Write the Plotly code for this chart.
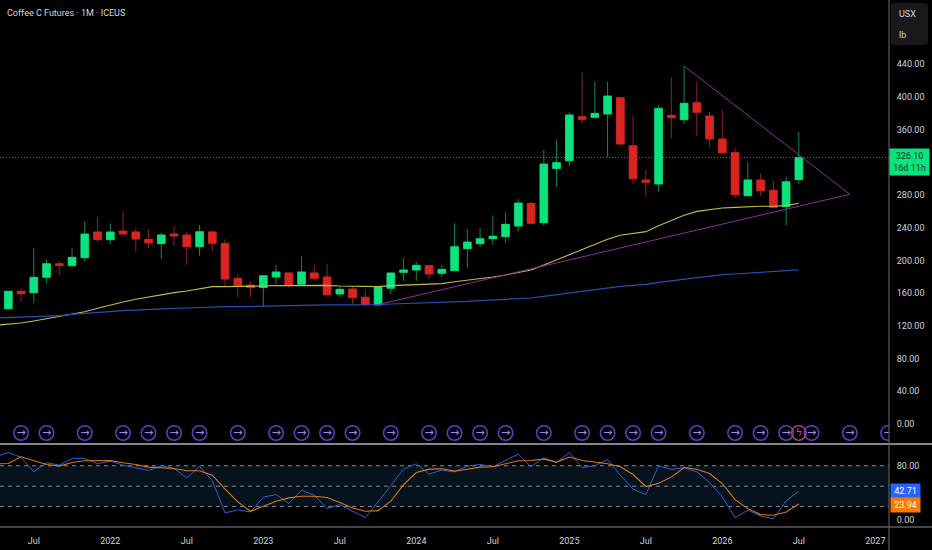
import plotly.graph_objects as go
from plotly.subplots import make_subplots

WIDTH = 932
HEIGHT = 550
AXIS_X = 889
MAIN_BOTTOM = 444
LOWER_BOTTOM = 527

# monthly bars, index 0 = May 2021
bar_open = [141.0, 162.3, 160.6, 179.4, 196.1, 193.7, 203.5, 234.9, 225.5, 236.0, 234.9, 225.9, 220.6, 232.4, 231.2, 216.9,
            234.9, 221.0, 178.2, 170.0, 166.8, 179.8, 184.7, 170.9, 184.7, 179.8, 159.0, 165.1, 155.0, 145.6, 166.0, 185.5,
            188.4, 193.7, 184.3, 187.6, 214.5, 220.6, 226.7, 229.2, 242.2, 269.9, 246.3, 312.7, 322.1, 376.0, 375.1, 379.2,
            399.2, 340.5, 298.5, 293.6, 377.6, 372.3, 393.1, 376.8, 348.6, 331.9, 279.3, 298.5, 285.8, 265.9, 298.9]
bar_high = [162.5, 166.0, 214.9, 201.4, 199.8, 214.9, 248.3, 253.2, 245.5, 260.1, 239.4, 237.3, 234.0, 242.2, 235.3, 243.4,
            236.5, 225.9, 183.1, 174.1, 182.3, 194.5, 185.5, 204.7, 194.9, 196.1, 168.0, 168.8, 164.7, 168.8, 184.7, 203.9,
            198.2, 194.5, 194.5, 245.5, 238.1, 239.8, 255.2, 259.0, 275.2, 272.0, 335.2, 348.2, 381.3, 430.2, 418.4, 418.8,
            399.2, 376.8, 310.7, 390.2, 424.0, 437.9, 418.4, 381.7, 384.1, 338.4, 320.5, 306.6, 297.3, 302.5, 357.2]
bar_low = [140.0, 149.6, 147.6, 172.1, 182.3, 191.6, 198.6, 222.6, 220.2, 232.0, 210.8, 214.9, 202.2, 218.1, 194.5, 205.9,
           211.2, 168.8, 155.0, 155.0, 143.1, 171.2, 166.8, 170.0, 176.2, 158.2, 155.8, 146.4, 146.0, 144.4, 159.0, 175.0,
           175.3, 177.4, 179.8, 187.6, 191.6, 216.5, 219.4, 221.4, 236.1, 244.6, 242.2, 290.3, 315.6, 367.8, 373.9, 326.2,
           341.3, 293.6, 278.1, 284.2, 349.4, 367.0, 352.3, 339.3, 331.9, 276.1, 278.1, 278.9, 263.8, 243.0, 293.2]
bar_close = [162.3, 159.4, 179.4, 196.1, 193.7, 203.9, 232.4, 225.5, 234.9, 232.4, 226.3, 221.4, 231.2, 230.0, 216.9, 235.3,
             221.0, 177.4, 169.6, 166.8, 181.4, 186.0, 170.0, 186.0, 178.2, 158.2, 164.7, 154.5, 146.0, 167.6, 184.7, 188.4,
             194.1, 183.5, 189.2, 216.9, 222.6, 226.7, 229.6, 244.2, 270.3, 245.5, 318.0, 319.7, 378.0, 372.7, 380.0, 401.2,
             342.5, 300.1, 295.6, 386.1, 374.7, 392.3, 381.3, 348.6, 331.9, 280.5, 298.5, 285.4, 265.0, 296.4, 326.1]
bar_index = list(range(len(bar_open)))

# indicators start one month earlier, so they reach the left edge
line_index = list(range(-1, 63))
yellow_ma = [120.7, 121.9, 123.5, 126.0, 128.9, 131.3, 133.8, 137.4, 141.5, 145.6, 149.2, 152.5, 155.4, 158.2, 160.7, 162.7,
             165.1, 168.0, 168.0, 168.0, 168.0, 168.8, 169.2, 169.2, 170.0, 170.0, 169.6, 168.8, 168.4, 168.0, 168.0, 169.2,
             170.0, 170.8, 171.2, 171.7, 174.1, 175.7, 177.8, 179.8, 182.3, 185.1, 188.4, 194.5, 200.6, 207.1, 212.9, 219.4,
             225.9, 230.8, 233.2, 235.3, 242.6, 249.1, 255.3, 260.1, 262.6, 264.2, 265.0, 265.9, 266.3, 266.3, 267.1, 270.0]
blue_ma = [129.7, 130.1, 130.5, 130.9, 131.7, 132.5, 134.1, 135.4, 136.6, 137.4, 138.6, 139.4, 140.3, 140.7, 141.5, 141.9,
           142.7, 143.1, 143.5, 143.5, 143.9, 143.9, 144.3, 144.3, 145.1, 145.1, 145.6, 145.6, 145.6, 146.0, 146.0, 146.8,
           147.2, 147.6, 148.4, 148.8, 149.6, 150.0, 150.9, 151.7, 152.5, 153.3, 154.1, 156.2, 158.2, 160.7, 162.7, 165.1,
           166.7, 168.4, 169.6, 170.9, 173.3, 175.3, 177.4, 179.4, 181.4, 182.6, 183.5, 184.3, 185.5, 186.3, 187.5, 188.7]
stoch_k = [93.2, 99.6, 92.3, 71.1, 84.4, 81.0, 90.8, 90.8, 82.9, 86.9, 81.0, 77.0, 73.1, 80.0, 76.0, 62.3,
           79.0, 57.9, 10.7, 15.1, 12.1, 33.8, 37.7, 24.4, 44.1, 36.7, 17.0, 22.9, 13.6, 3.8, 26.9, 50.5,
           75.1, 82.9, 67.7, 73.6, 71.1, 79.5, 81.9, 78.5, 88.3, 97.2, 78.5, 91.8, 84.9, 99.6, 77.5, 80.0,
           89.3, 66.2, 45.6, 37.7, 80.0, 74.6, 77.0, 71.1, 55.4, 34.3, 3.8, 14.6, 6.2, 1.8, 28.4, 42.71]
stoch_d = [82.9, 83.4, 93.2, 87.4, 81.9, 79.5, 84.9, 87.4, 87.4, 87.8, 84.4, 81.9, 78.0, 77.5, 76.0, 72.6,
           72.6, 66.2, 45.6, 26.9, 13.1, 20.5, 27.9, 32.8, 35.2, 35.2, 33.3, 25.9, 18.0, 13.1, 14.1, 27.9,
           52.4, 70.1, 75.0, 75.5, 72.1, 75.0, 78.0, 78.5, 82.4, 87.4, 87.8, 89.8, 85.4, 92.8, 87.8, 85.9,
           82.9, 78.5, 67.2, 49.5, 54.4, 63.3, 77.5, 75.0, 68.7, 53.9, 30.3, 17.0, 8.2, 7.2, 12.1, 23.94]

# triangle drawn on the chart: lower leg, apex, upper leg
triangle_x = [29, 66, 53]
triangle_y = [146, 281, 438]

event_index = [1, 3, 6, 9, 11, 13, 15, 18, 21, 23, 25, 27, 30, 33, 35, 37, 39, 42, 45, 47, 49, 51, 54, 57, 59, 61, 63, 66, 69]
flash_index = [62]

time_ticks = [2, 8, 14, 20, 26, 32, 38, 44, 50, 56, 62, 68]
time_labels = ["Jul", "2022", "Jul", "2023", "Jul", "2024", "Jul", "2025", "Jul", "2026", "Jul", "2027"]
price_ticks = [0, 40, 80, 120, 160, 200, 240, 280, 360, 400, 440]
stoch_ticks = [0, 80]

last_price = bar_close[-1]
TEXT = "#d1d4dc"
FONT = "Roboto"
FONT_SIZE = 9


def px_x(x):
    return x / WIDTH


def px_y(y):
    return 1 - y / HEIGHT


def rounded_box(x0, y0, x1, y1, r):
    a, b, c, d = px_x(x0), px_x(x1), px_y(y0), px_y(y1)
    rx, ry = r / WIDTH, r / HEIGHT
    return (f"M {a + rx},{c} L {b - rx},{c} Q {b},{c} {b},{c - ry} L {b},{d + ry} Q {b},{d} {b - rx},{d} "
            f"L {a + rx},{d} Q {a},{d} {a},{d + ry} L {a},{c - ry} Q {a},{c} {a + rx},{c} Z")


fig = make_subplots(rows=2, cols=1, shared_xaxes=True, vertical_spacing=0)

# wicks are dimmer than the bodies, so they go in a trace of their own underneath
fig.add_trace(go.Candlestick(
    x=bar_index, open=bar_open, high=bar_high, low=bar_low, close=bar_close,
    increasing=dict(line=dict(color="#0f8a55", width=1), fillcolor="#0f8a55"),
    decreasing=dict(line=dict(color="#8f2424", width=1), fillcolor="#8f2424"),
    showlegend=False), row=1, col=1)
fig.add_trace(go.Candlestick(
    x=bar_index, open=bar_open, close=bar_close,
    high=[max(o, c) for o, c in zip(bar_open, bar_close)],
    low=[min(o, c) for o, c in zip(bar_open, bar_close)],
    increasing=dict(line=dict(color="#0be37e", width=0.5), fillcolor="#0be37e"),
    decreasing=dict(line=dict(color="#d9241f", width=0.5), fillcolor="#d9241f"),
    showlegend=False), row=1, col=1)

fig.add_trace(go.Scatter(x=line_index, y=yellow_ma, mode="lines", line=dict(color="#c2bb52", width=1.1),
                         showlegend=False), row=1, col=1)
fig.add_trace(go.Scatter(x=line_index, y=blue_ma, mode="lines", line=dict(color="#2a4fb0", width=1.2),
                         showlegend=False), row=1, col=1)
fig.add_trace(go.Scatter(x=triangle_x, y=triangle_y, mode="lines", line=dict(color="#8e2fa0", width=1),
                         showlegend=False), row=1, col=1)

# event row just above the lower pane
fig.add_trace(go.Scatter(x=event_index, y=[-11] * len(event_index), mode="markers+text", text=["→"] * len(event_index),
                         textposition="middle center", textfont=dict(family="DejaVu Sans", size=11, color="#9a8ae8"),
                         marker=dict(symbol="circle-open", size=14.5, color="#5a3fc8", line=dict(width=1.5)),
                         showlegend=False), row=1, col=1)
fig.add_trace(go.Scatter(x=flash_index, y=[-11] * len(flash_index), mode="markers+text", text=["ϟ"],
                         textposition="middle center", textfont=dict(family="DejaVu Sans", size=11, color="#c0409a"),
                         marker=dict(symbol="circle-open", size=14.5, color="#a83a8c", line=dict(width=1.5)),
                         showlegend=False), row=1, col=1)

fig.add_trace(go.Scatter(x=line_index, y=stoch_k, mode="lines", line=dict(color="#2d62d8", width=1),
                         showlegend=False), row=2, col=1)
fig.add_trace(go.Scatter(x=line_index, y=stoch_d, mode="lines", line=dict(color="#e0761c", width=1.1),
                         showlegend=False), row=2, col=1)

fig.update_layout(
    width=WIDTH, height=HEIGHT, margin=dict(l=0, r=0, t=0, b=0),
    paper_bgcolor="#000000", plot_bgcolor="#000000",
    font=dict(family=FONT, color=TEXT, size=FONT_SIZE),
    boxgap=0.14, hovermode=False, showlegend=False,
)
fig.update_xaxes(range=[-0.65, 69.07], domain=[0, px_x(AXIS_X)], showgrid=False, zeroline=False,
                 rangeslider=dict(visible=False))
fig.update_xaxes(tickmode="array", tickvals=time_ticks, ticktext=time_labels, ticks="outside", ticklen=5,
                 tickcolor="#000000", tickfont=dict(size=FONT_SIZE, color=TEXT), row=2, col=1)
fig.update_yaxes(side="right", showgrid=False, zeroline=False, tickformat=".2f", ticks="outside", ticklen=5,
                 tickcolor="#000000", tickfont=dict(size=FONT_SIZE, color=TEXT))
fig.update_yaxes(domain=[px_y(MAIN_BOTTOM), 1], range=[-24.5, 518.7], tickmode="array", tickvals=price_ticks, row=1, col=1)
fig.update_yaxes(domain=[px_y(LOWER_BOTTOM), px_y(MAIN_BOTTOM)], range=[-10, 112], tickmode="array", tickvals=stoch_ticks,
                 row=2, col=1)

# lower pane band and its dashed levels
fig.add_shape(type="rect", xref="x2 domain", yref="y2", x0=0, x1=1, y0=20, y1=80, fillcolor="#06121c", line_width=0,
              layer="below")
for level in [20, 50, 80]:
    fig.add_shape(type="line", xref="x2 domain", yref="y2", x0=0, x1=1, y0=level, y1=level,
                  line=dict(color="#868c96", width=1, dash="4px,4px"), layer="below")

# last price line
fig.add_shape(type="line", xref="x domain", yref="y", x0=0, x1=1, y0=last_price, y1=last_price,
              line=dict(color="#0f9a5c", width=1, dash="1px,2px"), layer="below")

# pane borders
for y, color, w in [(MAIN_BOTTOM, "#b4b4b4", 1.5), (LOWER_BOTTOM, "#5c5c5c", 1.5)]:
    fig.add_shape(type="line", xref="paper", yref="paper", x0=0, x1=1, y0=px_y(y), y1=px_y(y), line=dict(color=color, width=w))
fig.add_shape(type="line", xref="paper", yref="paper", x0=px_x(AXIS_X), x1=px_x(AXIS_X), y0=0, y1=1,
              line=dict(color="#5c5c5c", width=1.2))

# currency and unit box
fig.add_shape(type="path", xref="paper", yref="paper", path=rounded_box(891, 3, 928, 45, 3), fillcolor="#191919", line_width=0)
fig.add_annotation(xref="paper", yref="paper", x=px_x(897), y=px_y(14), text="USX", showarrow=False, xanchor="left",
                   yanchor="middle", font=dict(size=FONT_SIZE, color=TEXT))
fig.add_annotation(xref="paper", yref="paper", x=px_x(897), y=px_y(35), text="lb", showarrow=False, xanchor="left",
                   yanchor="middle", font=dict(size=FONT_SIZE, color=TEXT))

fig.add_annotation(xref="paper", yref="paper", x=px_x(5), y=px_y(13), text="Coffee C Futures · 1M · ICEUS", showarrow=False,
                   xanchor="left", yanchor="middle", font=dict(size=FONT_SIZE, color=TEXT))

# value tags on the scale
fig.add_annotation(xref="paper", yref="y", x=px_x(AXIS_X), y=last_price, yshift=-5, xanchor="left", width=37, height=24,
                   text=f"{last_price:.2f}<br>16d 11h", showarrow=False, bgcolor="#0be37e", align="center",
                   font=dict(size=FONT_SIZE, color="#0a3a22"))
fig.add_annotation(xref="paper", yref="y2", x=px_x(AXIS_X + 1), y=stoch_k[-1], xanchor="left", width=27, height=12,
                   text=f"{stoch_k[-1]:.2f}", showarrow=False, bgcolor="#2962ff", font=dict(size=FONT_SIZE, color="#ffffff"))
fig.add_annotation(xref="paper", yref="y2", x=px_x(AXIS_X + 1), y=stoch_d[-1], yshift=-1, xanchor="left", width=27, height=12,
                   text=f"{stoch_d[-1]:.2f}", showarrow=False, bgcolor="#f57c00", font=dict(size=FONT_SIZE, color="#ffffff"))

fig.write_html("out.html", config={"displayModeBar": False}, post_script="document.body.style.margin='0';")
